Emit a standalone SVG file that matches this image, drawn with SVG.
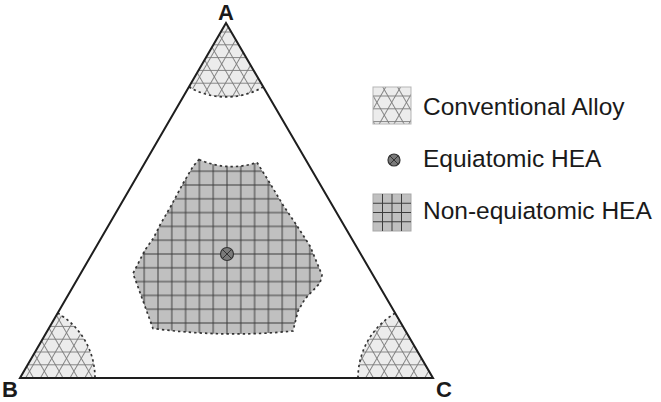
<svg xmlns="http://www.w3.org/2000/svg" xmlns:xlink="http://www.w3.org/1999/xlink" width="661" height="402" viewBox="0 0 661 402">
<style>
.lbl{font-family:"Liberation Sans",Arial,sans-serif;font-weight:bold;font-size:22px;fill:#1a1a1a}
.leg{font-family:"Liberation Sans",Arial,sans-serif;font-size:24.5px;fill:#1a1a1a}
.kline{stroke:#7a7a7a;stroke-width:0.9;fill:none}
.capbase{fill:#ececec}
.dash{fill:none;stroke:#333;stroke-width:1.7;stroke-dasharray:2.4 3}
.mk{fill:#7a7a7a;stroke:#333;stroke-width:1.2}
.mkx{stroke:#333;stroke-width:1}
</style>
<defs>
<pattern id="k0" patternUnits="userSpaceOnUse" width="50" height="12.8"><path class="kline" d="M0,6.4H50"/></pattern>
<pattern id="k1" patternUnits="userSpaceOnUse" width="50" height="12.8" patternTransform="rotate(60)"><path class="kline" d="M0,6.4H50"/></pattern>
<pattern id="k2" patternUnits="userSpaceOnUse" width="50" height="12.8" patternTransform="rotate(-60)"><path class="kline" d="M0,6.4H50"/></pattern>
<pattern id="grid" patternUnits="userSpaceOnUse" x="220.1" y="247.1" width="13.8" height="13.8"><path d="M6.9,0V13.8M0,6.9H13.8" stroke="#3c3c3c" stroke-width="1" fill="none"/></pattern>
<path id="capA" d="M226,23 L188.9,87 A74,74 0 0,0 263.1,87 Z"/>
<path id="capB" d="M20,378 L57.6,313.1 A75,75 0 0,1 95,378 Z"/>
<path id="capC" d="M433,378 L358,378 A75,75 0 0,1 395.2,313.2 Z"/>
<rect id="legBox" x="373" y="87" width="38" height="37"/>
<path id="regionPath" d="M199,159.5 Q228,172 257,162.5 L268,180 L283,205 L296.5,225 L310,246 L322,275 L320,283 L305,299 L298,311 L293,331 Q226,338 153,328.5 L147,312 L138,287 L133,273.5 L145,250 L153.5,238 L160,225 L171.5,205 L183,183.5 L193,166.5 Z"/>
</defs>

<g id="cap-A">
<use href="#capA" class="capbase"/>
<use href="#capA" fill="url(#k0)"/>
<use href="#capA" fill="url(#k1)"/>
<use href="#capA" fill="url(#k2)"/>
<path class="dash" d="M188.9,87 A74,74 0 0,0 263.1,87"/>
</g>
<g id="cap-B">
<use href="#capB" class="capbase"/>
<use href="#capB" fill="url(#k0)"/>
<use href="#capB" fill="url(#k1)"/>
<use href="#capB" fill="url(#k2)"/>
<path class="dash" d="M57.6,313.1 A75,75 0 0,1 95,378"/>
</g>
<g id="cap-C">
<use href="#capC" class="capbase"/>
<use href="#capC" fill="url(#k0)"/>
<use href="#capC" fill="url(#k1)"/>
<use href="#capC" fill="url(#k2)"/>
<path class="dash" d="M358,378 A75,75 0 0,1 395.2,313.2"/>
</g>

<g id="region-nonequiatomic">
<use href="#regionPath" fill="#c0c0c0"/>
<use href="#regionPath" fill="url(#grid)"/>
<use href="#regionPath" class="dash"/>
</g>

<g id="center-marker">
<circle class="mk" cx="227" cy="254" r="6.5"/>
<path class="mkx" d="M222.4,249.4 L231.6,258.6 M231.6,249.4 L222.4,258.6"/>
</g>

<g id="triangle">
<path d="M226,23 L20,378 L433,378 Z" fill="none" stroke="#1e1e1e" stroke-width="2" stroke-linejoin="miter"/>
</g>

<g id="vertex-labels">
<text class="lbl" x="226" y="20" text-anchor="middle">A</text>
<text class="lbl" x="2" y="397">B</text>
<text class="lbl" x="436" y="397">C</text>
</g>

<g id="legend">
<g id="legend-conventional">
<use href="#legBox" class="capbase"/>
<use href="#legBox" fill="url(#k0)"/>
<use href="#legBox" fill="url(#k1)"/>
<use href="#legBox" fill="url(#k2)"/>
<use href="#legBox" fill="none" stroke="#b5b5b5" stroke-width="1"/>
<text class="leg" x="423" y="115">Conventional Alloy</text>
</g>
<g id="legend-equiatomic">
<circle class="mk" cx="394" cy="160" r="6"/>
<path class="mkx" d="M389.8,155.8 L398.2,164.2 M398.2,155.8 L389.8,164.2"/>
<text class="leg" x="423" y="167">Equiatomic HEA</text>
</g>
<g id="legend-nonequiatomic">
<rect x="373" y="194" width="38" height="37" fill="#c0c0c0" stroke="#a8a8a8" stroke-width="1"/>
<path d="M382.5,194V231M392,194V231M401.5,194V231M373,203.25H411M373,212.5H411M373,221.75H411" stroke="#3c3c3c" stroke-width="1" fill="none"/>
<text class="leg" x="423" y="219">Non-equiatomic HEA</text>
</g>
</g>
</svg>
